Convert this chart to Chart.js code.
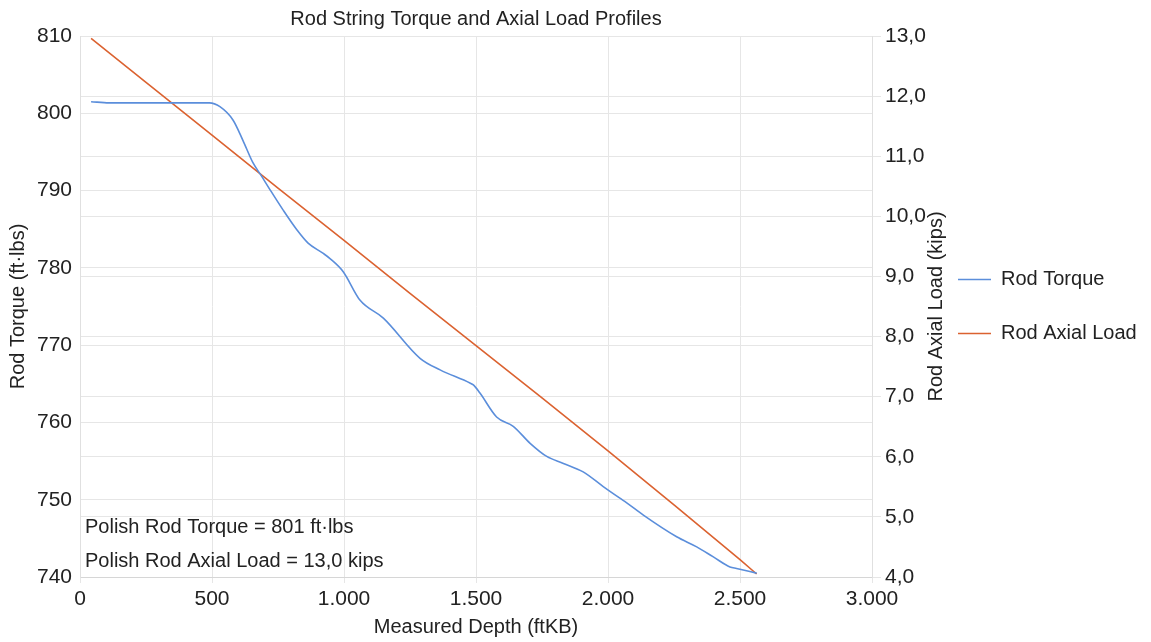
<!DOCTYPE html>
<html>
<head>
<meta charset="utf-8">
<script src="https://cdn.jsdelivr.net/npm/chart.js@4.4.1/dist/chart.umd.min.js"></script>
<style>
  html, body { margin: 0; padding: 0; background: #ffffff; }
  #wrap { position: relative; width: 1151px; height: 642px; }
</style>
</head>
<body>
<div id="wrap"><canvas id="c" width="1151" height="642"></canvas></div>
<script>
// ---- data ----
const chartTitle = 'Rod String Torque and Axial Load Profiles';
const xTitle = 'Measured Depth (ftKB)';
const yLeftTitle = 'Rod Torque (ft·lbs)';
const yRightTitle = 'Rod Axial Load (kips)';
const seriesNames = ['Rod Torque', 'Rod Axial Load'];
const annotationLines = ['Polish Rod Torque = 801 ft·lbs', 'Polish Rod Axial Load = 13,0 kips'];

const torqueDepth = [42, 110, 200, 300, 400, 490, 530, 580, 617, 655, 689, 720, 769, 822, 864, 920, 947, 997, 1061, 1149, 1288, 1364, 1477, 1490, 1515, 1578, 1641, 1705, 1768, 1831, 1906, 1982, 2045, 2071, 2134, 2260, 2336, 2399, 2462, 2487, 2563];
const torqueValues = [801.5, 801.35, 801.35, 801.35, 801.35, 801.35, 800.85, 799.1, 796.5, 793.6, 791.8, 790.1, 787.5, 784.9, 783.2, 781.9, 781.2, 779.5, 775.8, 773.5, 768.3, 766.8, 765.1, 764.85, 763.8, 760.7, 759.5, 757.3, 755.6, 754.7, 753.6, 751.7, 750.2, 749.6, 748.0, 745.2, 743.9, 742.6, 741.3, 741.1, 740.5];

const loadDepth = [42, 250, 500, 750, 1000, 1250, 1500, 1750, 2000, 2250, 2500, 2563];
const loadValues = [12.96, 12.23, 11.35, 10.47, 9.60, 8.72, 7.85, 6.98, 6.10, 5.20, 4.29, 4.05];

const xMin = 0, xMax = 3000, xStep = 500;
const yLeftMin = 740, yLeftMax = 810, yLeftStep = 10;
const yRightMin = 4, yRightMax = 13, yRightStep = 1;

// ---- styling ----
const FONT = '"Liberation Sans", Arial, Helvetica, sans-serif';
const TXT = '#222222';
const GRID = '#e6e6e6';
const BLUE = '#5b8edb';
const ORANGE = '#db6230';
const LEGEND_SHIFT = 12;

function thousandsDot(v) {
  return String(Math.round(v)).replace(/\B(?=(\d{3})+(?!\d))/g, '.');
}

const overlayText = {
  id: 'overlayText',
  afterLayout(chart) {
    // move the legend block a little to the left, closer to the right axis
    if (chart.legend) {
      chart.legend.left -= LEGEND_SHIFT;
      chart.legend.right -= LEGEND_SHIFT;
    }
  },
  afterDraw(chart) {
    const ctx = chart.ctx;
    const a = chart.chartArea;
    ctx.save();
    ctx.fillStyle = TXT;
    ctx.font = '20px ' + FONT;
    ctx.textBaseline = 'middle';
    ctx.textAlign = 'left';
    ctx.fillText(annotationLines[0], a.left + 5, 527);
    ctx.fillText(annotationLines[1], a.left + 5, 561);
    // right axis title, reading bottom to top
    ctx.translate(936, (a.top + a.bottom) / 2);
    ctx.rotate(-Math.PI / 2);
    ctx.textAlign = 'center';
    ctx.fillText(yRightTitle, 0, 0);
    ctx.restore();
  }
};

new Chart(document.getElementById('c'), {
  type: 'line',
  data: {
    datasets: [
      {
        label: seriesNames[0],
        data: torqueDepth.map((d, i) => ({x: d, y: torqueValues[i]})),
        yAxisID: 'y',
        borderColor: BLUE,
        backgroundColor: BLUE,
        borderWidth: 1.6,
        pointRadius: 0,
        cubicInterpolationMode: 'monotone',
        fill: false
      },
      {
        label: seriesNames[1],
        data: loadDepth.map((d, i) => ({x: d, y: loadValues[i]})),
        yAxisID: 'y1',
        borderColor: ORANGE,
        backgroundColor: ORANGE,
        borderWidth: 1.6,
        pointRadius: 0,
        tension: 0,
        fill: false
      }
    ]
  },
  options: {
    responsive: false,
    animation: false,
    devicePixelRatio: 1,
    layout: { padding: { left: 0, right: 1, top: 0, bottom: 0 } },
    plugins: {
      tooltip: { enabled: false },
      title: {
        display: true,
        text: chartTitle,
        fullSize: false,
        color: TXT,
        font: { family: FONT, size: 20, weight: 'normal' },
        padding: { top: 7, bottom: 5 }
      },
      legend: {
        position: 'right',
        fullSize: false,
        align: 'center',
        maxWidth: 214,
        labels: {
          color: TXT,
          font: { family: FONT, size: 20 },
          usePointStyle: true,
          pointStyle: 'line',
          pointStyleWidth: 33,
          padding: 34
        }
      }
    },
    scales: {
      x: {
        type: 'linear',
        min: xMin, max: xMax,
        afterFit(s) { s.height = 65; },
        ticks: {
          stepSize: xStep,
          color: TXT,
          font: { family: FONT, size: 21 },
          padding: 4,
          maxRotation: 0,
          callback: (v) => thousandsDot(v)
        },
        grid: { color: GRID, tickLength: 6 },
        border: { color: '#d6d6d6' },
        title: {
          display: true,
          text: xTitle,
          color: TXT,
          font: { family: FONT, size: 20 },
          padding: { top: 0, bottom: 3 }
        }
      },
      y: {
        position: 'left',
        min: yLeftMin, max: yLeftMax,
        afterFit(s) { s.width = 80; },
        ticks: {
          stepSize: yLeftStep,
          color: TXT,
          font: { family: FONT, size: 21 },
          padding: 8
        },
        grid: { color: GRID, drawTicks: false },
        border: { color: '#e0e0e0' },
        title: {
          display: true,
          text: yLeftTitle,
          color: TXT,
          font: { family: FONT, size: 20 },
          padding: { top: 6, bottom: 0 }
        }
      },
      y1: {
        position: 'right',
        min: yRightMin, max: yRightMax,
        afterFit(s) { s.width = 64; },
        ticks: {
          stepSize: yRightStep,
          color: TXT,
          font: { family: FONT, size: 21 },
          padding: 4,
          callback: (v) => v.toFixed(1).replace('.', ',')
        },
        grid: { color: GRID, tickLength: 9 },
        border: { color: '#e0e0e0' }
      }
    }
  },
  plugins: [overlayText]
});
</script>
</body>
</html>
